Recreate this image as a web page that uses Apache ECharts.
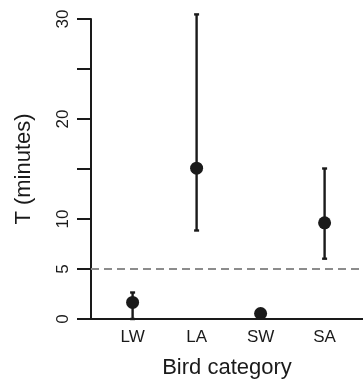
<!DOCTYPE html>
<html>
<head>
<meta charset="utf-8">
<script src="https://cdn.jsdelivr.net/npm/echarts@6/dist/echarts.min.js"></script>
<style>html,body{margin:0;padding:0;background:#fff}#c{width:363px;height:384px}</style>
</head>
<body>
<div id="c"></div>
<script>
var categories = ['LW', 'LA', 'SW', 'SA'];
var means = [1.66, 15.08, 0.55, 9.62];
var lower = [0, 8.85, null, 6.03];
var upper = [2.65, 30.46, null, 15.05];
var threshold = 5;
var yTickLabels = {0: '0', 5: '5', 10: '10', 20: '20', 30: '30'};

var font = 'Liberation Sans, Arial, Helvetica, sans-serif';
var ink = '#1a1a1a';

var pointData = means.map(function (m, i) { return [i + 1, m]; });
var errData = [];
for (var i = 0; i < categories.length; i++) {
  if (lower[i] !== null && upper[i] !== null) errData.push([i + 1, lower[i], upper[i]]);
}

var chart = echarts.init(document.getElementById('c'));
chart.setOption({
  animation: false,
  grid: {left: 91, right: 0, top: 19, bottom: 63, containLabel: false},
  xAxis: {
    type: 'value', min: 0.35, max: 4.6,
    name: 'Bird category', nameLocation: 'middle', nameGap: 38,
    nameTextStyle: {fontFamily: font, fontSize: 22, color: ink},
    axisLine: {show: true, onZero: false, lineStyle: {color: ink, width: 2}},
    axisTick: {show: false},
    splitLine: {show: false},
    axisLabel: {
      customValues: [1, 2, 3, 4],
      formatter: function (v) { return categories[Math.round(v) - 1] || ''; },
      fontFamily: font, fontSize: 17, color: ink, margin: 10
    }
  },
  yAxis: {
    type: 'value', min: 0, max: 30, interval: 5,
    name: 'T (minutes)', nameLocation: 'middle', nameGap: 56,
    nameTextStyle: {fontFamily: font, fontSize: 22, color: ink},
    axisLine: {show: true, lineStyle: {color: ink, width: 2}},
    axisTick: {show: true, length: 14, lineStyle: {color: ink, width: 2}},
    splitLine: {show: false},
    axisLabel: {
      rotate: 90,
      formatter: function (v) { return yTickLabels[v] !== undefined ? yTickLabels[v] : ''; },
      fontFamily: font, fontSize: 17, color: ink, margin: 19
    }
  },
  series: [
    {
      type: 'custom',
      clip: false,
      data: errData,
      renderItem: function (params, api) {
        var x = api.value(0);
        var lo = api.coord([x, api.value(1)]);
        var hi = api.coord([x, api.value(2)]);
        var cap = 2.5;
        var st = {stroke: ink, lineWidth: 2.4};
        return {
          type: 'group',
          children: [
            {type: 'line', shape: {x1: lo[0], y1: lo[1], x2: hi[0], y2: hi[1]}, style: st},
            {type: 'line', shape: {x1: hi[0] - cap, y1: hi[1], x2: hi[0] + cap, y2: hi[1]}, style: st},
            {type: 'line', shape: {x1: lo[0] - cap, y1: lo[1], x2: lo[0] + cap, y2: lo[1]}, style: st}
          ]
        };
      },
      z: 3
    },
    {
      type: 'scatter',
      data: pointData,
      symbol: 'circle',
      symbolSize: 13,
      itemStyle: {color: ink, opacity: 1},
      clip: false,
      z: 4,
      markLine: {
        silent: true,
        symbol: ['none', 'none'],
        label: {show: false},
        lineStyle: {color: '#8c8c8c', type: [8, 5], width: 2},
        data: [{yAxis: threshold}]
      }
    }
  ]
});
</script>
</body>
</html>
